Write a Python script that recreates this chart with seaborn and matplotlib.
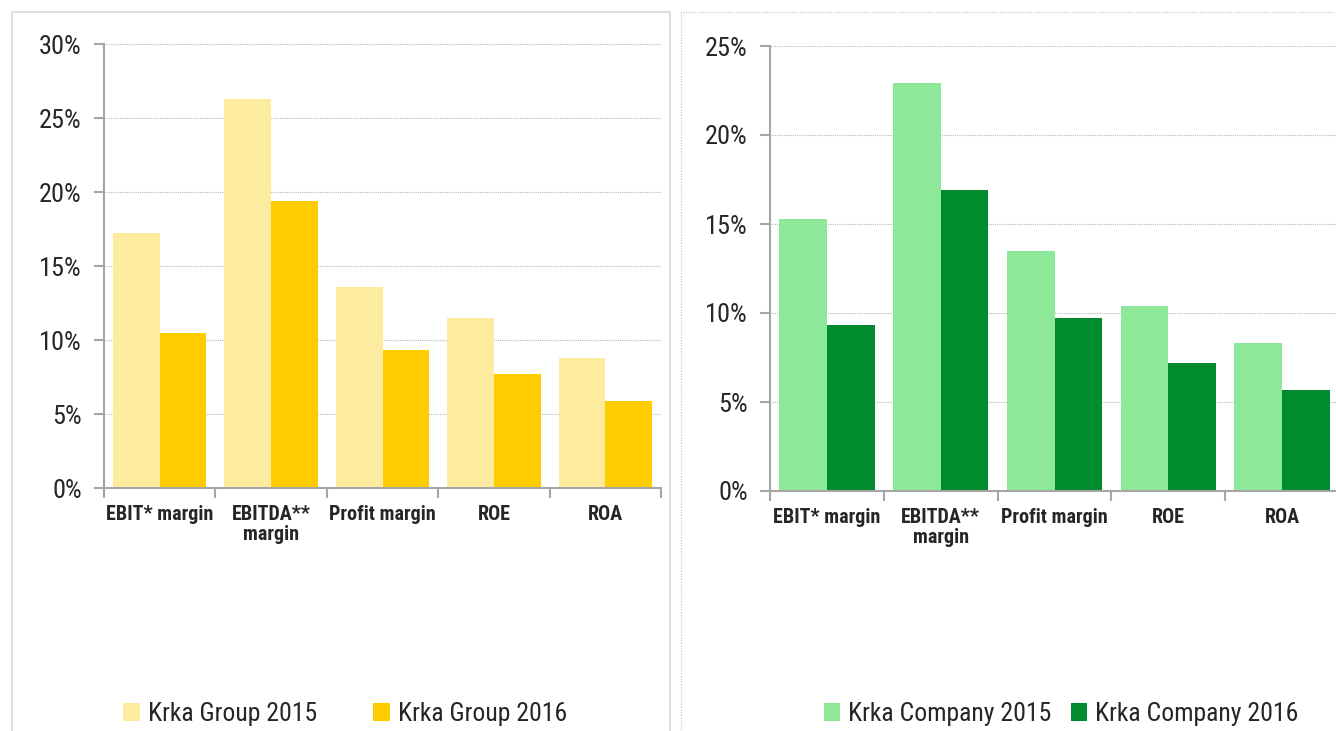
import pandas as pd
import numpy as np
import matplotlib.pyplot as plt
import seaborn as sns
from matplotlib.patches import Rectangle
from matplotlib.ticker import PercentFormatter

sns.set_style("white")
plt.rcParams['font.family'] = ['Roboto Condensed', 'DejaVu Sans']

categories = ["EBIT* margin", "EBITDA**\nmargin", "Profit margin", "ROE", "ROA"]
group_2015 = [17.2, 26.3, 13.6, 11.5, 8.8]
group_2016 = [10.5, 19.4, 9.3, 7.7, 5.9]
company_2015 = [15.3, 22.9, 13.5, 10.4, 8.3]
company_2016 = [9.3, 16.9, 9.7, 7.2, 5.7]

def long_df(v15, v16, name):
    return pd.DataFrame({
        "ratio": categories * 2,
        "value": v15 + v16,
        "series": [f"{name} 2015"] * 5 + [f"{name} 2016"] * 5,
    })

fig = plt.figure(figsize=(13.36, 7.31), dpi=100)
W, H = 1336, 731

# panel frames
fig.patches.append(Rectangle((12 / W, -0.01), (670 - 12) / W, (H - 12) / H + 0.01, transform=fig.transFigure,
                             fill=False, edgecolor='#d9d9d9', linewidth=1.2))
fig.patches.append(Rectangle((681 / W, -0.01), (W + 10 - 681) / W, (H - 12) / H + 0.01, transform=fig.transFigure,
                             fill=False, edgecolor='#cfcfcf', linewidth=1.0, linestyle=(0, (1, 1))))

def draw(ax, df, colors, ymax, legend_pos, colspace):
    sns.barplot(data=df, x="ratio", y="value", hue="series", palette=colors,
                width=0.84, gap=0, saturation=1, linewidth=0, ax=ax, legend=True)
    ax.set_ylim(0, ymax)
    ax.set_xlim(-0.5, 4.5)
    ax.set_yticks(np.arange(0, ymax + 0.1, 5))
    ax.yaxis.set_major_formatter(PercentFormatter(decimals=0))
    ax.set_xlabel("")
    ax.set_ylabel("")
    ax.grid(axis='y', color='#b8b8b8', linestyle=(0, (1, 1)), linewidth=0.8)
    ax.set_axisbelow(True)
    for s in ['top', 'right']:
        ax.spines[s].set_visible(False)
    for s in ['left', 'bottom']:
        ax.spines[s].set_color('#a6a6a6')
        ax.spines[s].set_linewidth(1.5)
    ax.tick_params(axis='y', which='major', left=True, length=7, width=1.5, color='#a6a6a6',
                   labelsize=19, pad=9)
    ax.tick_params(axis='x', which='major', bottom=False, labelsize=14.5, pad=9)
    ax.set_xticks(np.arange(-0.5, 5, 1), minor=True)
    ax.tick_params(axis='x', which='minor', bottom=True, length=7, width=1.5, color='#a6a6a6')
    for lab in ax.get_xticklabels():
        lab.set_fontweight('bold')
        lab.set_linespacing(1.05)
    ax.legend(loc='center', bbox_to_anchor=legend_pos, bbox_transform=fig.transFigure, ncol=2,
              frameon=False, fontsize=18.5, handlelength=0.65, handleheight=0.7,
              handletextpad=0.3, columnspacing=colspace)

ax1 = fig.add_axes([104 / W, (H - 488) / H, (661 - 104) / W, (488 - 44) / H])
draw(ax1, long_df(group_2015, group_2016, "Krka Group"), ['#fdeba0', '#ffcc00'], 30,
     (345 / W, (H - 714) / H), 2.2)

ax2 = fig.add_axes([770 / W, (H - 491) / H, (1339 - 770) / W, (491 - 46) / H])
draw(ax2, long_df(company_2015, company_2016, "Krka Company"), ['#8ee89a', '#008c2e'], 25,
     (1061 / W, (H - 714) / H), 0.75)

fig.savefig("out.png", dpi=100)
